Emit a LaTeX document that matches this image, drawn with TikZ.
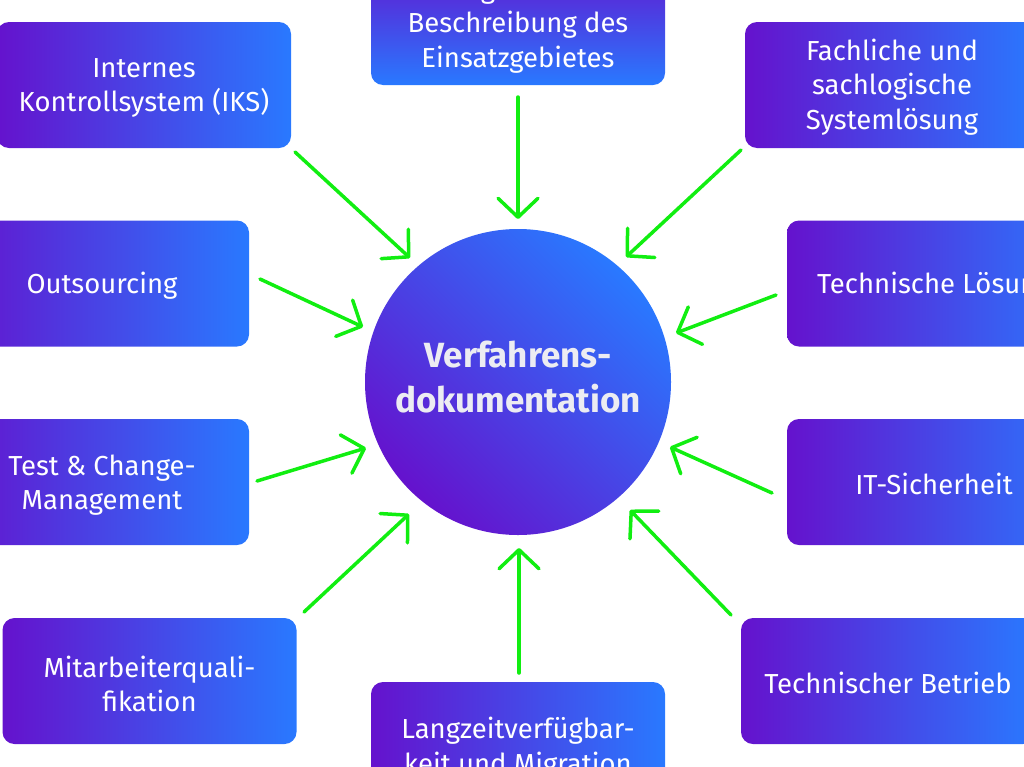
\documentclass[tikz,border=0pt]{standalone}
\usepackage{fontspec}
\setmainfont{Fira Sans}
\usetikzlibrary{arrows.meta}
\definecolor{pu}{HTML}{6512CD}
\definecolor{bl}{HTML}{2979FF}
\definecolor{gr}{HTML}{11EE11}
\definecolor{ctext}{HTML}{ECECF2}
\tikzset{
  box/.style={rounded corners=12pt, minimum width=294pt, minimum height=126pt,
    left color=pu, right color=bl, inner sep=0pt},
  vbox/.style={box, top color=pu, bottom color=bl},
  txt/.style={text=white, align=center, inner sep=0pt,
    font=\fontsize{27.5}{34.5}\selectfont},
  hub/.style={circle, minimum size=306pt, inner sep=0pt, top color=bl, bottom color=pu,
    shading angle=-45},
  hubtxt/.style={text=ctext, align=center, inner sep=0pt,
    font=\bfseries\fontsize{35}{46}\selectfont},
  feed/.style={draw=gr, line width=3.5pt, line cap=round,
    -{Straight Barb[length=19pt, width=40pt, line width=3.5pt, round]}}
}
\begin{document}
\begin{tikzpicture}[x=1pt,y=-1pt]
\useasboundingbox (0,0) rectangle (1024,766);
\node[hub] (hub) at (518,382) {};
\node[hubtxt] (hub-t) at ([yshift=5pt]hub.center) {Verfahrens-\\[-1pt]dokumentation};
\node[vbox] (top) at (518,22) {};
\node[box] (iks) at (144,85) {};
\node[box] (fach) at (892,85) {};
\node[box] (outs) at (102,283.5) {};
\node[box] (tl) at (934,283.5) {};
\node[box] (test) at (102,482) {};
\node[box] (it) at (934,482) {};
\node[box] (mit) at (149.5,681) {};
\node[box] (tb) at (888,681) {};
\node[box] (lang) at (518,745) {};
\node[txt] (top-t) at ([yshift=-3pt]top.center) {Allgemeine\\Beschreibung des\\Einsatzgebietes};
\node[txt] (iks-t) at ([yshift=-3pt]iks.center) {Internes\\Kontrollsystem (IKS)};
\node[txt] (fach-t) at ([yshift=-2pt]fach.center) {Fachliche und\\sachlogische\\Systemlösung};
\node[txt] (outs-t) at ([yshift=-2pt]outs.center) {Outsourcing};
\node[txt] (tl-t) at ([yshift=-2pt]tl.center) {Technische Lösung};
\node[txt] (test-t) at ([yshift=-3pt]test.center) {Test \& Change-\\Management};
\node[txt] (it-t) at ([yshift=-2pt]it.center) {IT-Sicherheit};
\node[txt] (mit-t) at ([yshift=-3pt]mit.center) {Mitarbeiterquali-\\fikation};
\node[txt] (tb-t) at ([yshift=-2pt]tb.center) {Technischer Betrieb};
\node[txt] (lang-t) at ([yshift=-3pt]lang.center) {Langzeitverfügbar-\\keit und Migration};
% arrow end points
\coordinate (s1) at (518,97);  \coordinate (e1) at (518,219);
\coordinate (s2) at (295,152); \coordinate (e2) at (410,258);
\coordinate (s3) at (741,150); \coordinate (e3) at (626,257);
\coordinate (s4) at (260,279); \coordinate (e4) at (363,327);
\coordinate (s5) at (776,295); \coordinate (e5) at (676,333);
\coordinate (s6) at (257,481); \coordinate (e6) at (366,448);
\coordinate (s7) at (772,493); \coordinate (e7) at (670,447);
\coordinate (s8) at (304,612); \coordinate (e8) at (409,514);
\coordinate (s9) at (731,615); \coordinate (e9) at (630,510);
\coordinate (s10) at (519,673); \coordinate (e10) at (519,548);
\foreach \i in {1,...,10} {\draw[feed] (s\i) -- (e\i);}
\end{tikzpicture}
\end{document}
